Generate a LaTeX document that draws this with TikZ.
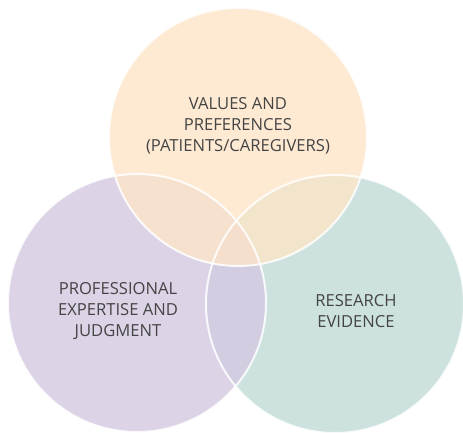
\documentclass[tikz,border=0pt]{standalone}
\usepackage{fontspec}
\setmainfont{Open Sans}
\usepackage{tikz}
\usetikzlibrary{positioning}
\definecolor{peach}{RGB}{254,229,200}
\definecolor{lavender}{RGB}{212,200,225}
\definecolor{seafoam}{RGB}{192,219,215}
\definecolor{inkgray}{RGB}{68,68,68}
\tikzstyle{ring} = [circle, minimum size=258pt, inner sep=0pt, fill opacity=0.8]
\tikzstyle{rim} = [draw=white, line width=2pt, draw opacity=0.85]
\tikzstyle{venntext} = [align=center, text=inkgray, font=\fontsize{16.6}{21}\selectfont]

\begin{document}
\begin{tikzpicture}[x=1pt, y=-1pt]
            \useasboundingbox (0,0) rectangle (463,433);
            \node[ring, fill=seafoam] (research) at (335,304) {};
            \node[ring, fill=lavender] (expertise) at (137,303) {};
            \node[ring, fill=peach] (values) at (238,137) {};
            
            \foreach \c in {research, expertise, values}
                \draw[rim] (\c.center) circle[radius=129pt];
            
            \node[venntext] (valuestext) at (238,126) {VALUES AND\\PREFERENCES\\(PATIENTS/CAREGIVERS)};
            \node[venntext] (expertisetext) at (118,311) {PROFESSIONAL\\EXPERTISE AND\\JUDGMENT};
            \node[venntext] (researchtext) at (356,311) {RESEARCH\\EVIDENCE};
        \end{tikzpicture}
\end{document}
